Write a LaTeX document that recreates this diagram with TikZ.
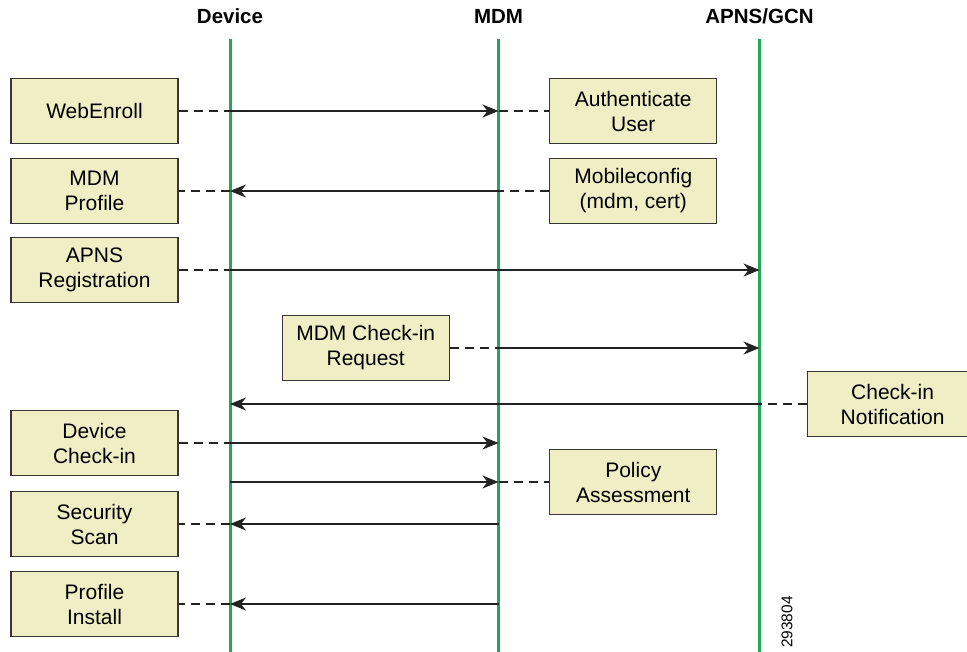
\documentclass[tikz,border=0pt]{standalone}
\usepackage{fontspec}
\setmainfont{Liberation Sans}
\usetikzlibrary{arrows.meta}
\definecolor{lifegreen}{RGB}{34,166,88}
\definecolor{boxfill}{RGB}{240,238,196}
\definecolor{boxedge}{RGB}{55,55,55}
\definecolor{msgcol}{RGB}{35,35,35}
\begin{document}
\begin{tikzpicture}[x=1pt,y=-1pt,
 actbox/.style={draw=boxedge,fill=boxfill,line width=1.2pt,minimum width=167pt,minimum height=65pt,inner sep=0pt,align=center,font=\fontsize{21}{25}\selectfont},
 head/.style={font=\bfseries\fontsize{20.5}{25}\selectfont,anchor=base},
 life/.style={draw=lifegreen,line width=3pt},
 msg/.style={draw=msgcol,line width=1.4pt,-{Stealth[length=16pt,width=13pt,inset=5pt]}},
 dashlink/.style={draw=msgcol,line width=1.4pt,dash pattern=on 9pt off 6pt}]
\useasboundingbox (0,0) rectangle (967,652);
% headers
\node[head] (hdev) at (230,23.5) {Device};
\node[head] (hmdm) at (498.5,23.5) {MDM};
\node[head] (hapns) at (759.5,23.5) {APNS/GCN};
% lifelines
\coordinate (devT) at (230,39);
\coordinate (devB) at (230,652);
\coordinate (mdmT) at (498.5,39);
\coordinate (mdmB) at (498.5,652);
\coordinate (apnsT) at (759.5,39);
\coordinate (apnsB) at (759.5,652);
\draw[life] (devT) -- (devB);
\draw[life] (mdmT) -- (mdmB);
\draw[life] (apnsT) -- (apnsB);
% boxes
\node[actbox] (web) at (94.5,111) {WebEnroll};
\node[actbox] (prof) at (94.5,191) {MDM\\Profile};
\node[actbox] (reg) at (94.5,270) {APNS\\Registration};
\node[actbox] (dci) at (94.5,443) {Device\\Check-in};
\node[actbox] (scan) at (94.5,524) {Security\\Scan};
\node[actbox] (inst) at (94.5,604) {Profile\\Install};
\node[actbox] (auth) at (633.3,111) {Authenticate\\User};
\node[actbox] (mcfg) at (633.3,191) {Mobileconfig\\(mdm, cert)};
\node[actbox] (pol) at (633.3,482) {Policy\\Assessment};
\node[actbox] (req) at (365.7,348) {MDM Check-in\\Request};
\node[actbox,minimum width=170pt,anchor=west] (notif) at (807,404) {Check-in\\Notification};
% messages
\draw[dashlink] (web.east) -- (web.east -| devT);
\draw[msg] (web.east -| devT) -- (web.east -| mdmT);
\draw[dashlink] (web.east -| mdmT) -- (auth.west);

\draw[dashlink] (mcfg.west) -- (mcfg.west -| mdmT);
\draw[msg] (mcfg.west -| mdmT) -- (prof.east -| devT);
\draw[dashlink] (prof.east -| devT) -- (prof.east);

\draw[dashlink] (reg.east) -- (reg.east -| devT);
\draw[msg] (reg.east -| devT) -- (reg.east -| apnsT);

\draw[dashlink] (req.east) -- (req.east -| mdmT);
\draw[msg] (req.east -| mdmT) -- (req.east -| apnsT);

\draw[dashlink] (notif.west) -- (notif.west -| apnsT);
\draw[msg] (notif.west -| apnsT) -- (notif.west -| devT);

\draw[dashlink] (dci.east) -- (dci.east -| devT);
\draw[msg] (dci.east -| devT) -- (dci.east -| mdmT);

\draw[msg] (pol.west -| devT) -- (pol.west -| mdmT);
\draw[dashlink] (pol.west -| mdmT) -- (pol.west);

\draw[msg] (scan.east -| mdmT) -- (scan.east -| devT);
\draw[dashlink] (scan.east -| devT) -- (scan.east);

\draw[msg] (inst.east -| mdmT) -- (inst.east -| devT);
\draw[dashlink] (inst.east -| devT) -- (inst.east);
% figure number
\node[rotate=90,font=\fontsize{15.5}{16}\selectfont,inner sep=0pt] (fignum) at (787,622) {293804};
\end{tikzpicture}
\end{document}
